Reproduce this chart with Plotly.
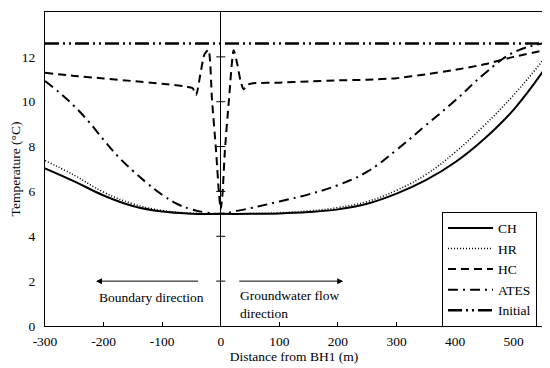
import plotly.graph_objects as go

# ---- data ----
x_ch = [-300, -250, -200, -150, -100, -50, 0, 50, 100, 150, 200, 250, 300, 350, 400, 450, 500, 550]
y_ch = [7.03, 6.45, 5.82, 5.35, 5.1, 5.01, 5.0, 5.0, 5.02, 5.08, 5.2, 5.45, 5.9, 6.5, 7.3, 8.35, 9.65, 11.35]

x_hr = [-300, -250, -200, -150, -100, -50, 0, 50, 100, 150, 200, 250, 300, 350, 400, 450, 500, 550]
y_hr = [7.38, 6.72, 5.97, 5.45, 5.15, 5.03, 5.0, 5.01, 5.05, 5.13, 5.28, 5.55, 6.05, 6.75, 7.75, 8.95, 10.3, 11.85]

x_hc = [-300, -250, -200, -150, -100, -60, -48, -42, -35, -28, -21, -15, -8, -3, 0,
        3, 7, 14, 22, 28, 34, 39, 45, 55, 100, 150, 200, 250, 300, 350, 400, 450, 500, 550]
y_hc = [11.29, 11.15, 11.04, 10.92, 10.8, 10.68, 10.6, 10.3, 11.2, 12.1, 12.32, 10.1, 7.8, 5.9, 5.2,
        5.9, 7.8, 10.1, 12.3, 11.7, 10.9, 10.55, 10.75, 10.82, 10.85, 10.9, 10.95, 10.98, 11.05, 11.22, 11.42, 11.67, 12.0, 12.28]

x_ates = [-300, -275, -250, -225, -200, -175, -150, -125, -100, -75, -50, -25, 0,
          25, 50, 100, 150, 200, 250, 300, 350, 400, 450, 500, 550]
y_ates = [10.92, 10.4, 9.8, 9.1, 8.3, 7.55, 6.92, 6.35, 5.85, 5.45, 5.2, 5.06, 5.0,
          5.12, 5.25, 5.55, 5.87, 6.28, 6.88, 7.85, 8.95, 10.05, 11.25, 12.2, 12.6]

x_init = [-300, 550]
y_init = [12.6, 12.6]

x_ticks = [-300, -200, -100, 0, 100, 200, 300, 400, 500]
x_ticktext = ["-300", "-200", "-100", "0", "100", "200", "300", "400", "500"]
y_ticks = [0, 2, 4, 6, 8, 10, 12, 14]
zero_ticks = [2, 4, 6, 8, 10, 12]

# annotation anchors (data units)
boundary_arrow = (-36, -213, 2.0)
flow_arrow = (29, 209, 2.0)

FONT = "Times New Roman"
FS = 13.5

fig = go.Figure()
fig.add_trace(go.Scatter(x=x_ch, y=y_ch, name="CH", mode="lines",
                         line=dict(color="black", width=2, shape="spline", smoothing=1.2)))
fig.add_trace(go.Scatter(x=x_hr, y=y_hr, name="HR", mode="lines",
                         line=dict(color="black", width=1.6, dash="1px,2px", shape="spline", smoothing=1.2)))
fig.add_trace(go.Scatter(x=x_hc, y=y_hc, name="HC", mode="lines",
                         line=dict(color="black", width=2, dash="8px,5px", shape="spline", smoothing=0.6)))
fig.add_trace(go.Scatter(x=x_ates, y=y_ates, name="ATES", mode="lines",
                         line=dict(color="black", width=2, dash="10px,5px,2px,5px", shape="spline", smoothing=1.2)))
fig.add_trace(go.Scatter(x=x_init, y=y_init, name="Initial", mode="lines",
                         line=dict(color="black", width=2.5, dash="14px,4px,2px,4px,2px,4px")))

shapes = []
for t in zero_ticks:
    shapes.append(dict(type="line", xref="x", yref="y", xsizemode="pixel", xanchor=0,
                       x0=-4.5, x1=4.5, y0=t, y1=t, line=dict(color="black", width=1)))

annotations = [
    dict(x=boundary_arrow[1], y=boundary_arrow[2], ax=boundary_arrow[0], ay=boundary_arrow[2],
         xref="x", yref="y", axref="x", ayref="y", text="", showarrow=True,
         arrowhead=2, arrowsize=1.2, arrowwidth=1, arrowcolor="black"),
    dict(x=flow_arrow[1], y=flow_arrow[2], ax=flow_arrow[0], ay=flow_arrow[2],
         xref="x", yref="y", axref="x", ayref="y", text="", showarrow=True,
         arrowhead=2, arrowsize=1.2, arrowwidth=1, arrowcolor="black"),
    dict(x=-119, y=1.29, xref="x", yref="y", text="Boundary direction", showarrow=False,
         font=dict(family=FONT, size=FS, color="black")),
    dict(x=30, y=0.96, xref="x", yref="y", text="Groundwater flow<br>direction", showarrow=False,
         xanchor="left", align="left", font=dict(family=FONT, size=FS, color="black")),
]

# the page body adds an 8px offset, so margins are shifted to keep the plot area in place
fig.update_layout(
    width=550, height=368,
    margin=dict(l=37, r=15, t=4, b=50),
    paper_bgcolor="white", plot_bgcolor="white",
    font=dict(family=FONT, size=FS, color="black"),
    shapes=shapes, annotations=annotations,
    legend=dict(x=0.988, xanchor="right", y=0.364, yanchor="top",
                bordercolor="black", borderwidth=1, bgcolor="white", itemwidth=45,
                font=dict(family=FONT, size=FS, color="black"), tracegroupgap=0),
    xaxis=dict(range=[-300, 550], tickvals=x_ticks, ticktext=x_ticktext, ticks="inside", ticklen=4,
               tickcolor="black", showline=True, linecolor="black", linewidth=1, mirror=True,
               showgrid=False, zeroline=True, zerolinecolor="black", zerolinewidth=1,
               ticklabelstandoff=3, automargin=False,
               title=dict(text="Distance from BH1 (m)", standoff=1, font=dict(size=FS, color="black")),
               tickfont=dict(size=FS, color="black")),
    yaxis=dict(range=[0, 14], tickvals=y_ticks, ticks="", showline=True, linecolor="black",
               linewidth=1, mirror=True, showgrid=False, zeroline=False, ticklabelstandoff=6,
               automargin=False,
               title=dict(text="Temperature (°C)", standoff=2, font=dict(size=FS, color="black")),
               tickfont=dict(size=FS, color="black")),
)

fig.write_html("out.html")
